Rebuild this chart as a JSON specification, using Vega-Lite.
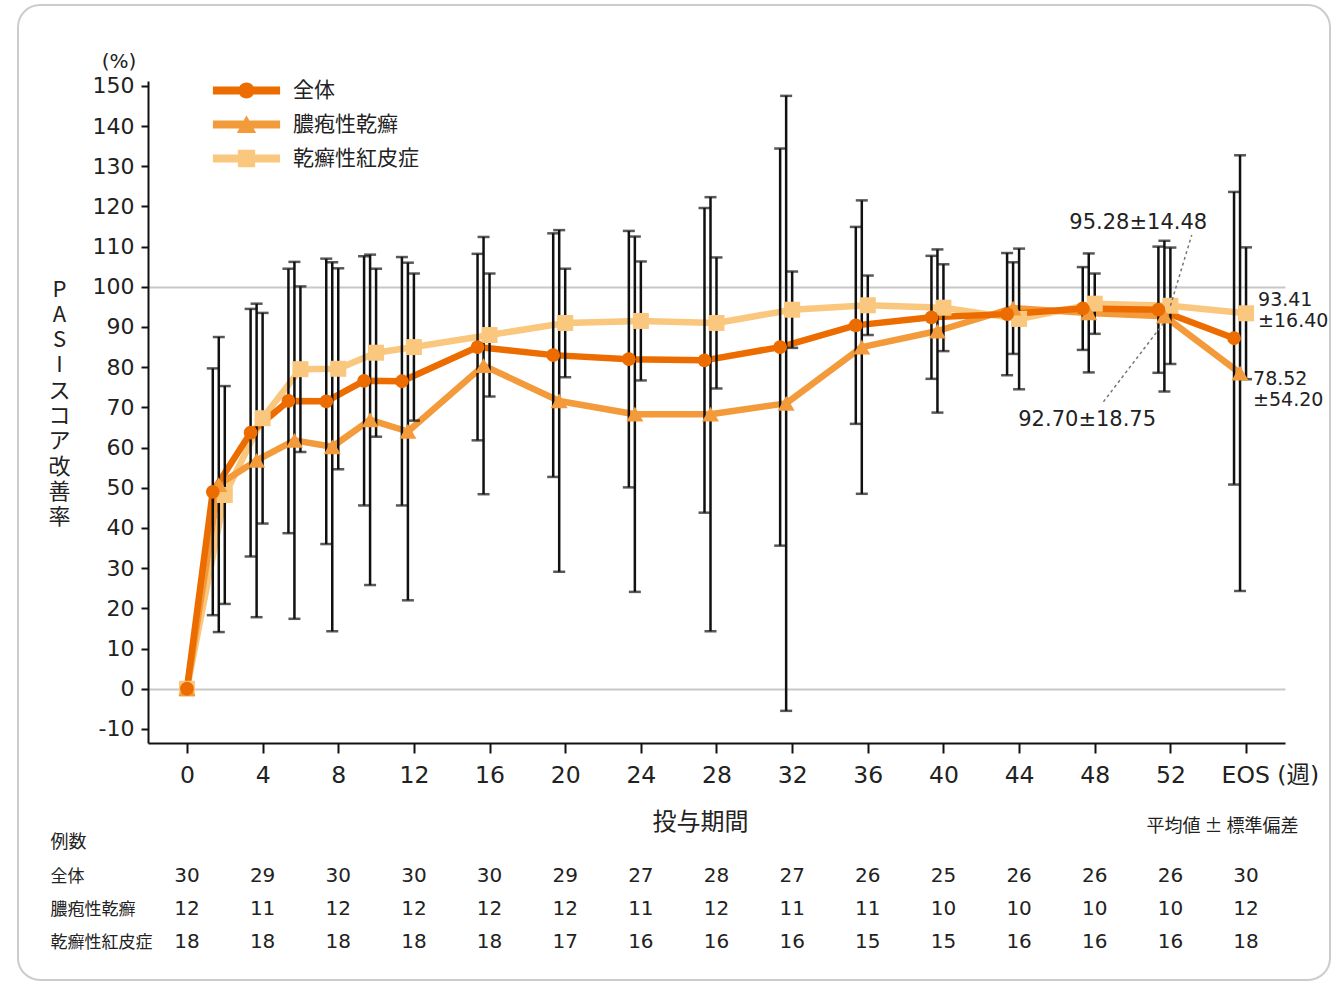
{
  "$schema": "https://vega.github.io/schema/vega-lite/v6.json",
  "width": 1312,
  "height": 975,
  "autosize": "none",
  "padding": {"left": 18, "top": 5, "right": 6, "bottom": 3},
  "background": "white",
  "config": {
    "font": "Noto Sans CJK JP",
    "view": {"stroke": "#cccccc", "strokeWidth": 2, "cornerRadius": 22, "fill": "white"},
    "axis": {"labelFont": "DejaVu Sans, Noto Sans CJK JP", "titleFont": "Noto Sans CJK JP", "labelColor": "#222222", "titleColor": "#222222", "titleFontWeight": "normal", "labelOverlap": false, "labelFlush": false},
    "legend": {"labelFont": "Noto Sans CJK JP"},
    "mark": {"aria": false},
    "text": {"font": "DejaVu Sans, Noto Sans CJK JP", "color": "#222222"},
    "style": {"guide-title": {"lineBreak": "\n"}}
  },
  "title": {"text": "(%)", "anchor": "start", "align": "center", "frame": "group", "orient": "top", "offset": 0, "dx": 101, "dy": 77, "baseline": "middle", "fontSize": 20, "fontWeight": "normal", "color": "#222222", "font": "DejaVu Sans"},
  "datasets": {
    "pasi": [
      {"week": 0, "series": "乾癬性紅皮症", "mean": 0, "sd": 0},
      {"week": 2, "series": "乾癬性紅皮症", "mean": 48.2, "sd": 27.1},
      {"week": 4, "series": "乾癬性紅皮症", "mean": 67.3, "sd": 26.2},
      {"week": 6, "series": "乾癬性紅皮症", "mean": 79.5, "sd": 20.6},
      {"week": 8, "series": "乾癬性紅皮症", "mean": 79.6, "sd": 25.0},
      {"week": 10, "series": "乾癬性紅皮症", "mean": 83.6, "sd": 20.9},
      {"week": 12, "series": "乾癬性紅皮症", "mean": 85.0, "sd": 18.3},
      {"week": 16, "series": "乾癬性紅皮症", "mean": 88.0, "sd": 15.3},
      {"week": 20, "series": "乾癬性紅皮症", "mean": 91.0, "sd": 13.5},
      {"week": 24, "series": "乾癬性紅皮症", "mean": 91.5, "sd": 14.8},
      {"week": 28, "series": "乾癬性紅皮症", "mean": 91.0, "sd": 16.3},
      {"week": 32, "series": "乾癬性紅皮症", "mean": 94.3, "sd": 9.5},
      {"week": 36, "series": "乾癬性紅皮症", "mean": 95.4, "sd": 7.4},
      {"week": 40, "series": "乾癬性紅皮症", "mean": 94.8, "sd": 10.8},
      {"week": 44, "series": "乾癬性紅皮症", "mean": 92.0, "sd": 17.5},
      {"week": 48, "series": "乾癬性紅皮症", "mean": 95.8, "sd": 7.5},
      {"week": 52, "series": "乾癬性紅皮症", "mean": 95.28, "sd": 14.48},
      {"week": 56, "series": "乾癬性紅皮症", "mean": 93.41, "sd": 16.40},
      {"week": 0, "series": "膿疱性乾癬", "mean": 0, "sd": 0},
      {"week": 2, "series": "膿疱性乾癬", "mean": 50.8, "sd": 36.7},
      {"week": 4, "series": "膿疱性乾癬", "mean": 56.8, "sd": 39.0},
      {"week": 6, "series": "膿疱性乾癬", "mean": 61.8, "sd": 44.4},
      {"week": 8, "series": "膿疱性乾癬", "mean": 60.2, "sd": 45.9},
      {"week": 10, "series": "膿疱性乾癬", "mean": 66.9, "sd": 41.1},
      {"week": 12, "series": "膿疱性乾癬", "mean": 64.0, "sd": 42.0},
      {"week": 16, "series": "膿疱性乾癬", "mean": 80.4, "sd": 32.0},
      {"week": 20, "series": "膿疱性乾癬", "mean": 71.6, "sd": 42.5},
      {"week": 24, "series": "膿疱性乾癬", "mean": 68.3, "sd": 44.2},
      {"week": 28, "series": "膿疱性乾癬", "mean": 68.3, "sd": 54.0},
      {"week": 32, "series": "膿疱性乾癬", "mean": 71.0, "sd": 76.5},
      {"week": 36, "series": "膿疱性乾癬", "mean": 85.0, "sd": 36.5},
      {"week": 40, "series": "膿疱性乾癬", "mean": 89.0, "sd": 20.3},
      {"week": 44, "series": "膿疱性乾癬", "mean": 94.7, "sd": 11.4},
      {"week": 48, "series": "膿疱性乾癬", "mean": 93.5, "sd": 14.8},
      {"week": 52, "series": "膿疱性乾癬", "mean": 92.70, "sd": 18.75},
      {"week": 56, "series": "膿疱性乾癬", "mean": 78.52, "sd": 54.20},
      {"week": 0, "series": "全体", "mean": 0, "sd": 0},
      {"week": 2, "series": "全体", "mean": 49.0, "sd": 30.7},
      {"week": 4, "series": "全体", "mean": 63.7, "sd": 30.8},
      {"week": 6, "series": "全体", "mean": 71.6, "sd": 32.9},
      {"week": 8, "series": "全体", "mean": 71.5, "sd": 35.5},
      {"week": 10, "series": "全体", "mean": 76.6, "sd": 31.0},
      {"week": 12, "series": "全体", "mean": 76.5, "sd": 30.9},
      {"week": 16, "series": "全体", "mean": 85.0, "sd": 23.2},
      {"week": 20, "series": "全体", "mean": 83.0, "sd": 30.3},
      {"week": 24, "series": "全体", "mean": 82.0, "sd": 31.9},
      {"week": 28, "series": "全体", "mean": 81.7, "sd": 37.9},
      {"week": 32, "series": "全体", "mean": 85.0, "sd": 49.4},
      {"week": 36, "series": "全体", "mean": 90.4, "sd": 24.5},
      {"week": 40, "series": "全体", "mean": 92.4, "sd": 15.3},
      {"week": 44, "series": "全体", "mean": 93.2, "sd": 15.2},
      {"week": 48, "series": "全体", "mean": 94.6, "sd": 10.3},
      {"week": 52, "series": "全体", "mean": 94.3, "sd": 15.7},
      {"week": 56, "series": "全体", "mean": 87.2, "sd": 36.4}
    ],
    "counts": [
      {"week": 0, "series": "全体", "n": 30}, {"week": 4, "series": "全体", "n": 29}, {"week": 8, "series": "全体", "n": 30}, {"week": 12, "series": "全体", "n": 30}, {"week": 16, "series": "全体", "n": 30}, {"week": 20, "series": "全体", "n": 29}, {"week": 24, "series": "全体", "n": 27}, {"week": 28, "series": "全体", "n": 28}, {"week": 32, "series": "全体", "n": 27}, {"week": 36, "series": "全体", "n": 26}, {"week": 40, "series": "全体", "n": 25}, {"week": 44, "series": "全体", "n": 26}, {"week": 48, "series": "全体", "n": 26}, {"week": 52, "series": "全体", "n": 26}, {"week": 56, "series": "全体", "n": 30},
      {"week": 0, "series": "膿疱性乾癬", "n": 12}, {"week": 4, "series": "膿疱性乾癬", "n": 11}, {"week": 8, "series": "膿疱性乾癬", "n": 12}, {"week": 12, "series": "膿疱性乾癬", "n": 12}, {"week": 16, "series": "膿疱性乾癬", "n": 12}, {"week": 20, "series": "膿疱性乾癬", "n": 12}, {"week": 24, "series": "膿疱性乾癬", "n": 11}, {"week": 28, "series": "膿疱性乾癬", "n": 12}, {"week": 32, "series": "膿疱性乾癬", "n": 11}, {"week": 36, "series": "膿疱性乾癬", "n": 11}, {"week": 40, "series": "膿疱性乾癬", "n": 10}, {"week": 44, "series": "膿疱性乾癬", "n": 10}, {"week": 48, "series": "膿疱性乾癬", "n": 10}, {"week": 52, "series": "膿疱性乾癬", "n": 10}, {"week": 56, "series": "膿疱性乾癬", "n": 12},
      {"week": 0, "series": "乾癬性紅皮症", "n": 18}, {"week": 4, "series": "乾癬性紅皮症", "n": 18}, {"week": 8, "series": "乾癬性紅皮症", "n": 18}, {"week": 12, "series": "乾癬性紅皮症", "n": 18}, {"week": 16, "series": "乾癬性紅皮症", "n": 18}, {"week": 20, "series": "乾癬性紅皮症", "n": 17}, {"week": 24, "series": "乾癬性紅皮症", "n": 16}, {"week": 28, "series": "乾癬性紅皮症", "n": 16}, {"week": 32, "series": "乾癬性紅皮症", "n": 16}, {"week": 36, "series": "乾癬性紅皮症", "n": 15}, {"week": 40, "series": "乾癬性紅皮症", "n": 15}, {"week": 44, "series": "乾癬性紅皮症", "n": 16}, {"week": 48, "series": "乾癬性紅皮症", "n": 16}, {"week": 52, "series": "乾癬性紅皮症", "n": 16}, {"week": 56, "series": "乾癬性紅皮症", "n": 18}
    ]
  },
  "layer": [
    {
      "data": {"name": "pasi"},
      "layer": [
        {
          "transform": [{"filter": {"field": "series", "equal": "乾癬性紅皮症"}}],
          "mark": {"type": "line", "color": "#FAC77E", "strokeWidth": 6.5, "strokeJoin": "round"},
          "encoding": {
            "x": {
              "field": "week", "type": "quantitative",
              "scale": {"domain": [-2.06, 58.06], "range": [130, 1267], "nice": false, "zero": false},
              "axis": {
                "values": [0, 4, 8, 12, 16, 20, 24, 28, 32, 36, 40, 44, 48, 52, 56],
                "labelExpr": "datum.value == 56 ? 'EOS (週)' : datum.label",
                "labelAlign": {"condition": {"test": "datum.value == 56", "value": "left"}, "value": "center"},
                "labelOffset": {"condition": {"test": "datum.value == 56", "value": -25}, "value": 0},
                "offset": -237,
                "grid": false,
                "domainColor": "#111111", "domainWidth": 2,
                "tickColor": "#111111", "tickWidth": 2, "tickSize": 10,
                "labelFontSize": 23.5, "labelPadding": 10,
                "title": "投与期間", "titleFontSize": 24, "titleX": 682, "titleY": 79, "titleBaseline": "middle", "titleAlign": "center"
              }
            },
            "y": {
              "field": "mean", "type": "quantitative",
              "scale": {"domain": [-13.5, 151.2], "range": [738, 76], "nice": false, "zero": false},
              "axis": {
                "values": [-10, 0, 10, 20, 30, 40, 50, 60, 70, 80, 90, 100, 110, 120, 130, 140, 150],
                "labelExpr": "'' + datum.value",
                "offset": -130,
                "domainColor": "#111111", "domainWidth": 2,
                "tickColor": "#111111", "tickWidth": 2, "tickSize": 7,
                "labelFontSize": 22, "labelPadding": 7,
                "grid": true, "gridColor": "#c8c8c8", "gridWidth": 2,
                "gridOpacity": {"condition": {"test": "datum.value === 0 || datum.value === 100", "value": 1}, "value": 0},
                "title": "P\nA\nS\nI\nス\nコ\nア\n改\n善\n率",
                "titleAngle": 0, "titleFontSize": 22, "titleLineHeight": 25.3,
                "titleX": -89, "titleY": 274, "titleAlign": "center", "titleBaseline": "top"
              }
            }
          }
        },
        {
          "transform": [{"filter": {"field": "series", "equal": "膿疱性乾癬"}}],
          "mark": {"type": "line", "color": "#F39A3A", "strokeWidth": 6.5, "strokeJoin": "round", "xOffset": {"expr": "datum.week === 0 ? 0 : -6"}},
          "encoding": {
            "x": {"field": "week", "type": "quantitative"},
            "y": {"field": "mean", "type": "quantitative"}
          }
        },
        {
          "transform": [{"filter": {"field": "series", "equal": "全体"}}],
          "mark": {"type": "line", "color": "#EC6C00", "strokeWidth": 6.5, "strokeJoin": "round", "xOffset": {"expr": "datum.week === 0 ? 0 : -12"}},
          "encoding": {
            "x": {"field": "week", "type": "quantitative"},
            "y": {"field": "mean", "type": "quantitative"}
          }
        },
        {
          "transform": [{"filter": "datum.week > 0"}],
          "mark": {
            "type": "errorbar", "size": 12, "thickness": 2.5, "color": "#111111",
            "ticks": {"xOffset": {"expr": "datum.series === '全体' ? -12 : datum.series === '膿疱性乾癬' ? -6 : 0"}},
            "rule": {"xOffset": {"expr": "datum.series === '全体' ? -12 : datum.series === '膿疱性乾癬' ? -6 : 0"}}
          },
          "encoding": {
            "x": {"field": "week", "type": "quantitative"},
            "y": {"field": "mean", "type": "quantitative", "title": "P\nA\nS\nI\nス\nコ\nア\n改\n善\n率"},
            "yError": {"field": "sd"},
            "detail": {"field": "series", "type": "nominal"},
            "tooltip": null
          }
        },
        {
          "transform": [{"filter": {"field": "series", "equal": "乾癬性紅皮症"}}],
          "mark": {"type": "point", "filled": true, "opacity": 1, "color": "#FAC77E", "shape": "square", "size": 256},
          "encoding": {
            "x": {"field": "week", "type": "quantitative"},
            "y": {"field": "mean", "type": "quantitative"}
          }
        },
        {
          "transform": [{"filter": {"field": "series", "equal": "膿疱性乾癬"}}],
          "mark": {"type": "point", "filled": true, "opacity": 1, "color": "#F39A3A", "shape": "triangle-up", "size": 290, "xOffset": {"expr": "datum.week === 0 ? 0 : -6"}},
          "encoding": {
            "x": {"field": "week", "type": "quantitative"},
            "y": {"field": "mean", "type": "quantitative"}
          }
        },
        {
          "transform": [{"filter": {"field": "series", "equal": "全体"}}],
          "mark": {"type": "point", "filled": true, "opacity": 1, "color": "#EC6C00", "shape": "circle", "size": 190, "xOffset": {"expr": "datum.week === 0 ? 0 : -12"}},
          "encoding": {
            "x": {"field": "week", "type": "quantitative"},
            "y": {"field": "mean", "type": "quantitative"}
          }
        },
        {
          "transform": [{"filter": "datum.week === 0"}],
          "mark": {"type": "point", "filled": true, "opacity": 0, "size": 256},
          "encoding": {
            "x": {"field": "week", "type": "quantitative"},
            "y": {"field": "mean", "type": "quantitative"},
            "color": {
              "field": "series", "type": "nominal",
              "scale": {"domain": ["全体", "膿疱性乾癬", "乾癬性紅皮症"], "range": ["#EC6C00", "#F39A3A", "#FAC77E"]},
              "legend": {
                "orient": "none", "legendX": 218, "legendY": 75, "direction": "vertical",
                "title": null, "padding": 0,
                "labelFontSize": 21, "labelColor": "#222222", "labelOffset": 36,
                "symbolSize": 256, "rowPadding": 12, "symbolOpacity": 1, "symbolStrokeWidth": 0
              }
            },
            "shape": {
              "field": "series", "type": "nominal",
              "scale": {
                "domain": ["全体", "膿疱性乾癬", "乾癬性紅皮症"],
                "range": [
                  "M-4.2,-0.5H4.2V0.5H-4.2Z M1,0A1,1 0 1 1 -1,0A1,1 0 1 1 1,0Z",
                  "M-4.2,-0.5H4.2V0.5H-4.2Z M0,-1.15L1.2,1.05L-1.2,1.05Z",
                  "M-4.2,-0.5H4.2V0.5H-4.2Z M-1.08,-1.08H1.08V1.08H-1.08Z"
                ]
              },
              "legend": {
                "orient": "none", "legendX": 218, "legendY": 75, "direction": "vertical",
                "title": null, "padding": 0,
                "labelFontSize": 21, "labelColor": "#222222", "labelOffset": 36,
                "symbolSize": 256, "rowPadding": 12, "symbolOpacity": 1, "symbolStrokeWidth": 0
              }
            }
          }
        },
        {
          "data": {"values": [{}]},
          "mark": {"type": "rule", "color": "#777777", "strokeWidth": 1.5, "strokeDash": [3, 3]},
          "encoding": {"x": {"datum": 52}, "y": {"datum": 95.28}, "x2": {"datum": 53.13}, "y2": {"datum": 112.9}}
        },
        {
          "data": {"values": [{}]},
          "mark": {"type": "rule", "color": "#777777", "strokeWidth": 1.5, "strokeDash": [3, 3]},
          "encoding": {"x": {"datum": 48.46}, "y": {"datum": 71.4}, "x2": {"datum": 51.63}, "y2": {"datum": 90.9}}
        },
        {
          "data": {"values": [{}]},
          "mark": {"type": "text", "fontSize": 21, "align": "center", "baseline": "middle"},
          "encoding": {"x": {"datum": 50.3}, "y": {"datum": 115.9}, "text": {"value": "95.28±14.48"}}
        },
        {
          "data": {"values": [{}]},
          "mark": {"type": "text", "fontSize": 21, "align": "center", "baseline": "middle"},
          "encoding": {"x": {"datum": 47.6}, "y": {"datum": 66.9}, "text": {"value": "92.70±18.75"}}
        },
        {
          "data": {"values": [{}]},
          "mark": {"type": "text", "fontSize": 19, "align": "left", "baseline": "middle", "dx": 12, "dy": -13, "lineHeight": 21},
          "encoding": {"x": {"datum": 56}, "y": {"datum": 93.41}, "text": {"value": ["93.41", "±16.40"]}}
        },
        {
          "data": {"values": [{}]},
          "mark": {"type": "text", "fontSize": 19, "align": "left", "baseline": "middle", "dx": 7, "dy": 6, "lineHeight": 21},
          "encoding": {"x": {"datum": 56}, "y": {"datum": 78.52}, "text": {"value": ["78.52", "±54.20"]}}
        }
      ]
    },
    {
      "data": {"name": "counts"},
      "mark": {"type": "text", "fontSize": 20, "baseline": "middle", "align": "center"},
      "encoding": {
        "x": {
          "field": "week", "type": "quantitative",
          "scale": {"domain": [-2.06, 58.06], "range": [130, 1267], "nice": false, "zero": false},
          "axis": {
            "orient": "bottom", "offset": 0, "domain": false, "ticks": false, "labels": false, "grid": false,
            "title": "平均値 ± 標準偏差", "titleFontSize": 18, "titleX": 1204, "titleY": -154, "titleAlign": "center", "titleBaseline": "middle"
          }
        },
        "y": {
          "field": "series", "type": "nominal",
          "scale": {"type": "point", "domain": ["全体", "膿疱性乾癬", "乾癬性紅皮症"], "range": [871, 937], "padding": 0},
          "axis": {
            "orient": "left", "offset": 0, "domain": false, "ticks": false, "tickSize": 0, "grid": false,
            "labelFont": "Noto Sans CJK JP",
            "labelAlign": "left", "labelBaseline": "middle", "labelPadding": -32, "labelFontSize": 17,
            "title": "例数", "titleAngle": 0, "titleFontSize": 18, "titleX": 32, "titleY": 837, "titleAlign": "left", "titleBaseline": "middle"
          }
        },
        "text": {"field": "n", "type": "quantitative"}
      }
    }
  ],
  "resolve": {"scale": {"x": "independent", "y": "independent"}}
}
